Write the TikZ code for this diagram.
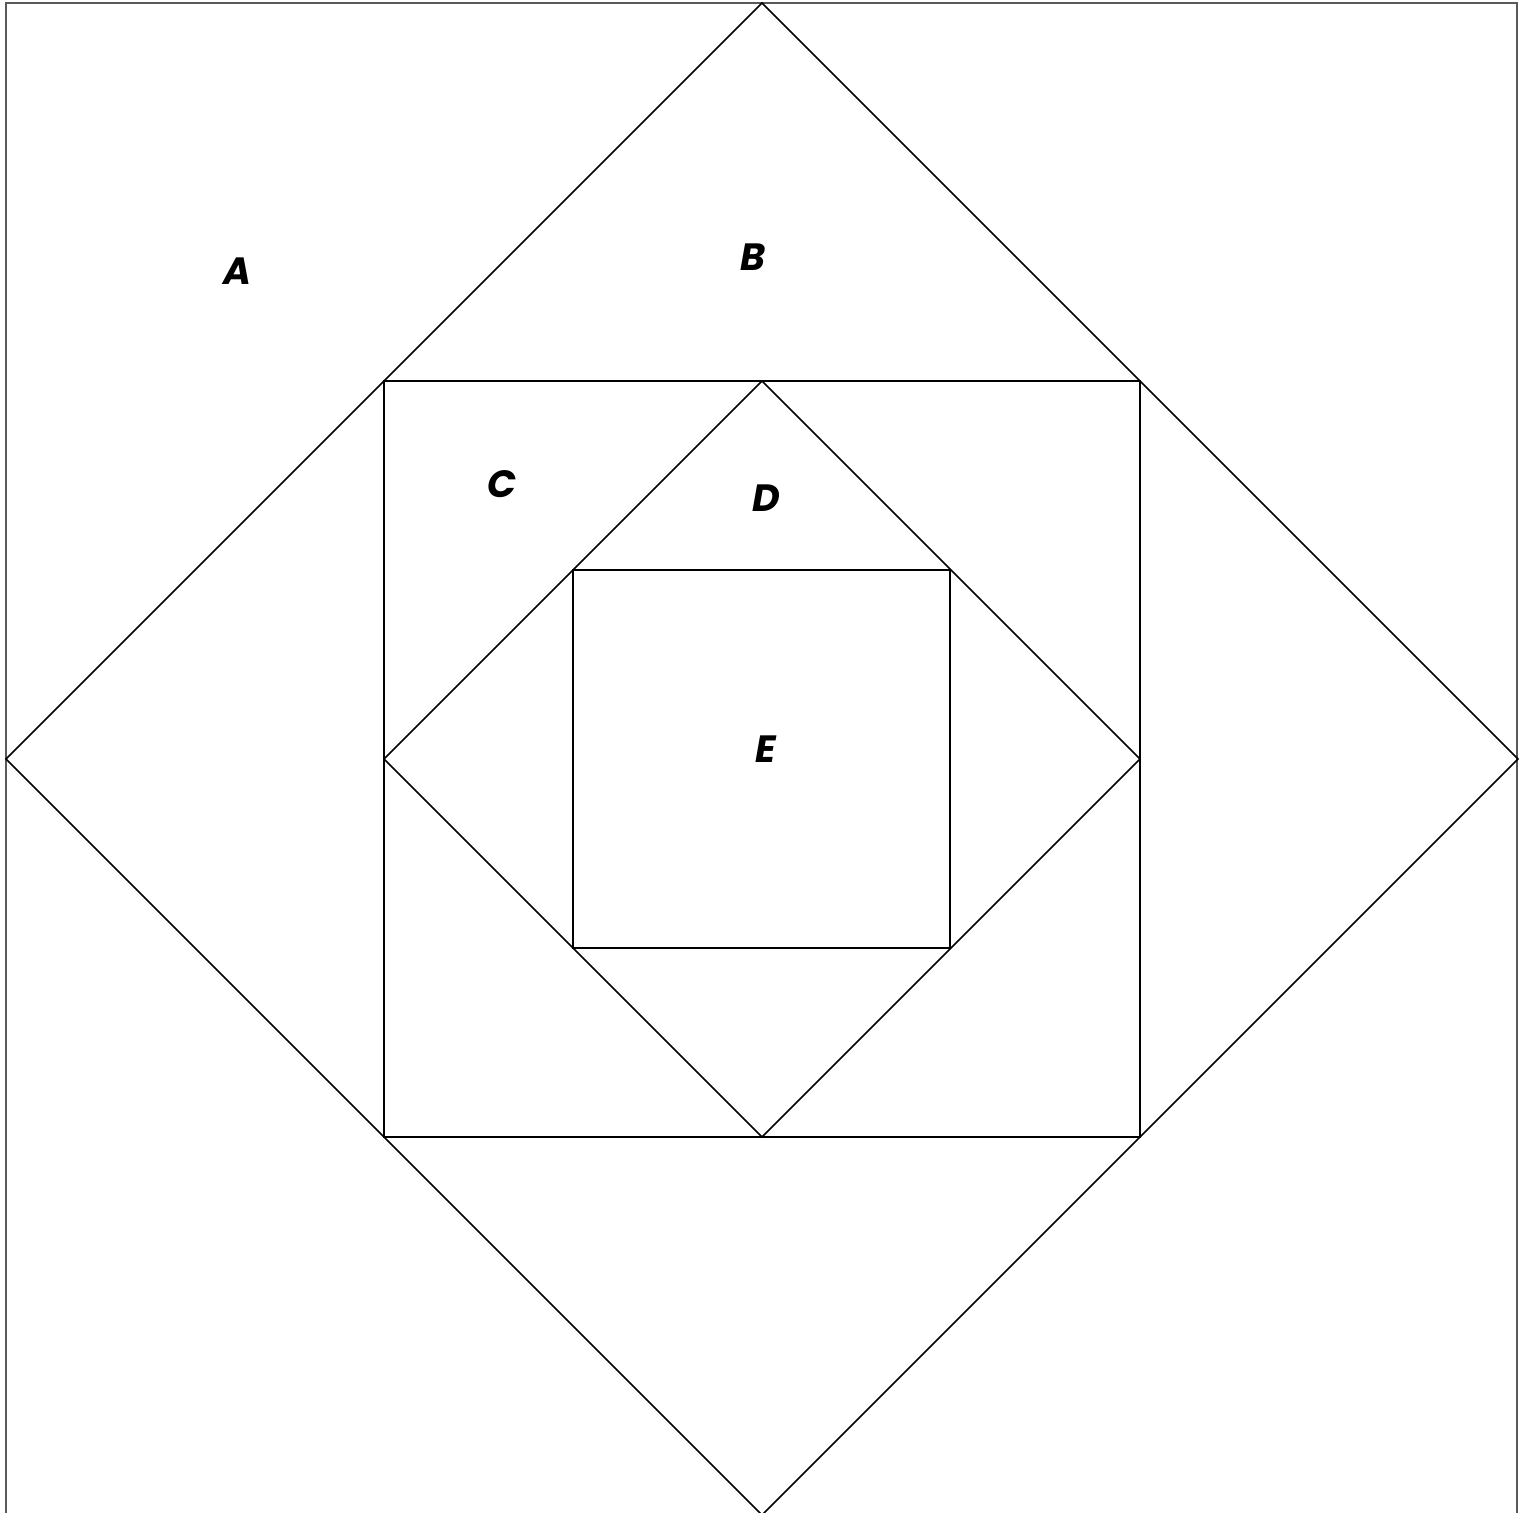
\documentclass[tikz,border=0pt]{standalone}
\usepackage{fontspec}
\newfontfamily\labfont{Poppins}
\begin{document}
\begin{tikzpicture}[x=0.5pt,y=-0.5pt,
  edge/.style={draw=black,line width=0.75pt,line join=miter},
  frame/.style={draw=black!65,line width=1pt},
  lab/.style={font=\labfont\bfseries\itshape\fontsize{19}{19}\selectfont,inner sep=0pt}]
\useasboundingbox (0,0) rectangle (1524,1513);
\clip (0,0) rectangle (1524,1513);
\coordinate (c) at (762,759);
\draw[frame] (6,3) rectangle (1517,1520);
\draw[edge] (762,3) -- (1518,759) -- (762,1515) -- (6,759) -- cycle;
\draw[edge] (384,381) rectangle (1140,1137);
\draw[edge] (762,381) -- (1140,759) -- (762,1137) -- (384,759) -- cycle;
\draw[edge] (573,570) rectangle (950,948);
\node[lab] (A) at (237,271) {A};
\node[lab] (B) at (753,257) {B};
\node[lab] (C) at (502,484) {C};
\node[lab] (D) at (766,498) {D};
\node[lab] (E) at (766,749) {E};
\end{tikzpicture}
\end{document}
